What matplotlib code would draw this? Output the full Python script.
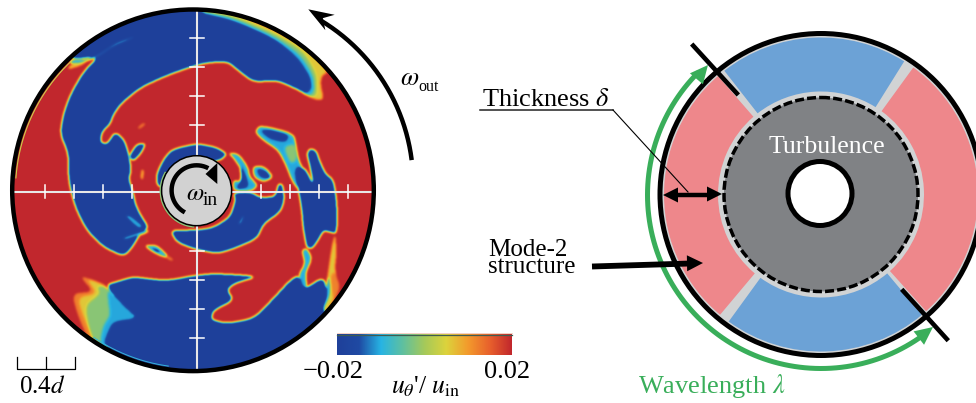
import numpy as np
import matplotlib
matplotlib.use('Agg')
import matplotlib.pyplot as plt
from matplotlib.colors import LinearSegmentedColormap
from matplotlib.patches import Circle, Wedge, Polygon
from matplotlib.path import Path

plt.rcParams['font.family'] = ['Liberation Serif', 'DejaVu Serif']
plt.rcParams['mathtext.fontset'] = 'stix'

# colour scale
cbar_min, cbar_max = -0.02, 0.02
cbar_colors = ['#1f409a', '#1f4aa3', '#27b4e4', '#5fc0a0', '#a5c95a', '#dcd33c', '#f39a2c', '#e8602c', '#c1272d']

BLUE, CYAN, GREEN, YELLOW, ORANGE = -0.02, -0.0105, -0.002, 0.006, 0.012

# outlines of the field regions (3x zoom coordinates)
top_yellow = [(600,25),(700,38),(820,88),(920,145),(985,215),(965,225),(960,250),(970,298),(945,298),(900,275),(860,200),(700,60),(600,35)]
top_green = [(600,30),(700,48),(820,98),(908,152),(948,220),(950,280),(935,292),(905,275),(860,200),(700,70),(600,38)]
top_cyan = [(600,34),(700,55),(820,108),(898,162),(938,225),(942,272),(925,288),(900,272),(860,200),(700,75)]
top_blue = [(600,38),(700,62),(820,115),(890,172),(928,230),(932,265),(915,280),(880,262),(830,240),(760,245),(720,215),(680,182),(600,190),(500,225),(420,262),(362,310),(338,345),(330,370),(305,395),(300,425),(320,432),(345,395),(372,420),(385,460),(393,510),(385,535),(398,575),(405,610),(418,640),(445,682),(420,700),(395,742),(370,768),(310,740),(260,690),(225,620),(205,540),(205,460),(180,400),(190,340),(212,280),(250,215),(295,168),(215,178),(130,130),(300,0),(600,0)]
lobe_small = [(385,470),(410,432),(435,430),(425,455),(400,482)]
sliver_cyan = [(405,108),(350,125),(300,160),(260,178),(215,178),(208,190),(240,188),(290,172),(340,138),(385,120)]
sliver_yellow = [(200,208),(215,192),(262,182),(240,196)]
above_hub = [(470,555),(470,520),(490,478),(515,448),(590,430),(650,442),(680,462),(660,480),(600,490),(530,500),(500,565)]
ring_cyan = [(685,458),(715,462),(742,500),(748,530),(772,555),(755,572),(700,572),(700,540),(720,545),(725,510),(700,472)]
ring_blue = [(718,490),(735,525),(745,560),(708,566),(725,540)]
oval_cyan = [(758,500),(790,498),(820,530),(790,545),(762,530)]
oval_blue = [(770,505),(800,515),(810,535),(780,530)]
below_hub = [(510,690),(530,725),(580,745),(650,760),(700,745),(770,715),(790,670),(840,635),(852,600),(848,555),(835,550),(825,590),(780,592),(750,575),(700,578),(706,600),(690,650),(640,682),(590,690)]
spot_cyan = [(712,672),(728,645),(732,650),(722,672)]
blob_cyan = [(765,395),(780,375),(880,400),(888,440),(895,480),(915,520),(890,500),(885,520),(895,570),(875,540),(860,500),(835,450),(790,420)]
blob_green = [(850,440),(885,430),(890,480),(870,490)]
blob_blue = [(780,390),(810,390),(865,405),(855,425),(810,415)]
right_blue = [(920,460),(930,445),(948,452),(957,480),(975,520),(1000,540),(1010,610),(1010,700),(988,695),(970,690),(950,725),(935,745),(920,742),(912,700),(908,670),(905,630),(895,570),(885,520),(890,500),(915,505),(940,555),(930,500)]
patch_cyan = [(905,750),(920,745),(935,775),(915,820),(920,860),(905,865),(895,825),(915,790)]
streak_yellow = [(1005,700),(1008,760),(1003,810),(1018,860),(990,920),(960,950),(975,880),(985,810),(995,740)]
streak_orange = [(1002,812),(1020,860),(1000,905),(990,830)]
streak_cyan = [(985,820),(992,880),(965,935),(975,890)]
ll_orange = [(240,828),(280,875),(215,880),(235,950),(270,1030),(300,1050),(340,1000),(415,955),(360,905),(315,855),(275,838)]
ll_yellow = [(262,838),(290,880),(232,892),(250,950),(285,1030),(300,1045),(340,1000),(415,955),(360,905),(315,855),(280,842)]
ll_green = [(290,860),(300,880),(255,915),(265,980),(282,1030),(305,1045),(340,1000),(415,955),(360,905),(315,858)]
ll_cyan = [(322,868),(325,910),(330,945),(310,975),(300,1020),(310,1050),(340,1000),(415,955),(360,905)]
bottom_blue = [(315,855),(365,840),(400,830),(480,840),(520,838),(570,828),(640,820),(775,828),(705,848),(680,868),(700,900),(640,930),(632,958),(680,970),(760,955),(810,905),(870,840),(895,825),(910,868),(970,830),(982,880),(965,935),(1050,1000),(800,1200),(300,1150),(340,1070),(312,1030),(325,995),(340,965),(415,955),(360,905)]
stripe_cyan = [(372,645),(390,645),(430,678),(415,686)]
stripe_cyan2 = [(365,712),(440,688),(445,695),(375,720)]
dash_orange = [(412,382),(430,368),(436,372),(418,386)]
dash_yellow = [(422,535),(424,508),(430,510),(428,537)]
lens_cyan = [(430,735),(470,735),(510,775),(470,762)]
lens_blue = [(450,742),(480,752),(472,757)]
tail_orange = [(495,765),(512,772),(520,782),(505,778)]

field_layers = [(top_yellow, YELLOW), (top_green, GREEN), (top_cyan, CYAN), (top_blue, BLUE), (lobe_small, BLUE),
                (sliver_cyan, CYAN), (sliver_yellow, YELLOW), (above_hub, BLUE), (ring_cyan, CYAN),
                (ring_blue, BLUE), (oval_cyan, CYAN), (oval_blue, BLUE), (below_hub, BLUE), (spot_cyan, CYAN),
                (blob_cyan, CYAN), (blob_green, GREEN), (blob_blue, BLUE), (right_blue, BLUE), (patch_cyan, CYAN),
                (streak_yellow, YELLOW), (streak_orange, ORANGE), (streak_cyan, CYAN),
                (ll_orange, ORANGE), (ll_yellow, YELLOW), (ll_green, GREEN), (ll_cyan, CYAN),
                (bottom_blue, BLUE), (stripe_cyan, CYAN), (stripe_cyan2, CYAN),
                (dash_orange, ORANGE), (dash_yellow, YELLOW), (lens_cyan, CYAN), (lens_blue, BLUE),
                (tail_orange, ORANGE)]

# tick positions on the white cross
cross_x_ticks = [45.3, 74, 103, 132, 261, 289.7, 318.7, 347.7]
cross_y_ticks = [38.3, 67.3, 96, 125, 250.7, 280, 309, 338]

# right hand sketch: sectors (start angle, end angle, colour)
sector_start = [58, 131, 234, 312]
sector_end = [128, 230, 310, 414]
sector_color = ['#6ca2d6', '#ee878b', '#6ca2d6', '#ee878b']


def smooth(pts, n=2):
    # round the corners of a traced outline
    p = np.array(pts, dtype=float)
    for _ in range(n):
        q = np.roll(p, -1, axis=0)
        p = np.column_stack([0.8 * p + 0.2 * q, 0.2 * p + 0.8 * q]).reshape(-1, 2)
    return p


def arc(cx, cy, r, a0, a1, n=200):
    t = np.radians(np.linspace(a0, a1, n))
    return cx + r * np.cos(t), cy - r * np.sin(t)


def head(tip, ang, length, width, color, notch=0.0):
    # arrow head with its point at tip, ang in degrees counted on the screen
    a = np.radians(ang)
    d = np.array([np.cos(a), -np.sin(a)])
    n = np.array([d[1], -d[0]])
    tip = np.array(tip, dtype=float)
    pts = [tip, tip - length * d + width / 2 * n, tip - length * (1 - notch) * d, tip - length * d - width / 2 * n]
    ax.add_patch(Polygon(pts, closed=True, fc=color, ec='none', zorder=8))


fig = plt.figure(figsize=(9.76, 4.03), dpi=100)
ax = fig.add_axes([0, 0, 1, 1])

cmap = LinearSegmentedColormap.from_list('field', cbar_colors)

# build the field from the traced regions
step = 1.5
gx, gy = np.meshgrid(np.arange(0, 1200, step), np.arange(0, 1200, step))
grid = np.column_stack([gx.ravel(), gy.ravel()])
field = np.full(gx.shape, cbar_max)
for outline, value in field_layers:
    mask = Path(smooth(outline)).contains_points(grid).reshape(gx.shape)
    field[mask] = value
kx = np.arange(-8, 9)
kernel = np.exp(-kx ** 2 / (2 * 2.3 ** 2))
kernel /= kernel.sum()
field = np.apply_along_axis(lambda r: np.convolve(r, kernel, mode='same'), 0, field)
field = np.apply_along_axis(lambda r: np.convolve(r, kernel, mode='same'), 1, field)

disc_cx, disc_cy = 193.0, 190.3
im = ax.imshow(field, cmap=cmap, vmin=cbar_min, vmax=cbar_max, extent=(0, 400, 400, 0),
               interpolation='bilinear', zorder=1)
im.set_clip_path(Circle((disc_cx, disc_cy), 180, transform=ax.transData))

# thin rim colours
x, y = arc(disc_cx, disc_cy, 177.5, 133, 176)
ax.plot(x, y, color='#c9cf4a', lw=0.8, zorder=2)
x, y = arc(disc_cx, disc_cy, 177.5, 236, 262)
ax.plot(x, y, color='#35b5d8', lw=0.7, zorder=2)

# white cross with ticks
ax.plot([15, 372], [191.5, 191.5], color='#e8e8e8', lw=1.5, zorder=3)
ax.plot([196.7, 196.7], [12, 369], color='#e8e8e8', lw=1.5, zorder=3)
for t in cross_x_ticks:
    ax.plot([t, t], [184.5, 198], color='white', lw=1.1, zorder=3)
for t in cross_y_ticks:
    ax.plot([190, 204], [t, t], color='white', lw=1.1, zorder=3)

# rim and hub
ax.add_patch(Circle((disc_cx, disc_cy), 180.8, fc='none', ec='black', lw=3.2, zorder=4))
x, y = arc(196.6, 190.7, 36.2, 150, 265)
ax.plot(x, y, color='#8cc67a', lw=1.2, zorder=4)
ax.add_patch(Circle((196.6, 190.7), 35, fc='#d2d2d2', ec='black', lw=1.1, zorder=5))
x, y = arc(196.6, 190.3, 25, 242, 62)
ax.plot(x, y, color='black', lw=3.2, zorder=6, solid_capstyle='butt')
ax.add_patch(Polygon([(205.5, 174), (217.3, 163), (217.3, 184)], fc='black', ec='none', zorder=6))
ax.text(186.5, 200, r'$\omega$', fontsize=18, ha='left', va='baseline', zorder=7)
ax.text(203, 205, 'in', fontsize=14, ha='left', va='baseline', zorder=7)

# rotation arrow of the outer cylinder
x, y = arc(222.4, 184, 190.8, 7.2, 58.8)
ax.plot(x, y, color='black', lw=3.2, zorder=6, solid_capstyle='butt')
head((308.3, 9.3), 148.7, 25.4, 18, 'black', notch=0.33)
ax.text(400, 85, r'$\omega$', fontsize=19, ha='left', va='baseline')
ax.text(418, 91, 'out', fontsize=11.5, ha='left', va='baseline')

# scale bar
ax.plot([17, 17, 75, 75], [356.7, 369.3, 369.3, 356.7], color='black', lw=0.9)
ax.plot([45.7, 45.7], [356.7, 369.3], color='black', lw=0.9)
ax.text(19, 393, r'0.4$d$', fontsize=18, ha='left', va='baseline')

# colour bar
bar = np.linspace(cbar_min, cbar_max, 256).reshape(1, -1)
ax.imshow(bar, cmap=cmap, vmin=cbar_min, vmax=cbar_max, extent=(337, 512, 355.5, 335), zorder=2)
ax.plot([337, 512], [334.5, 334.5], color='#3f5c50', lw=0.9, zorder=3)
ax.plot([337, 512], [333.3, 333.3], color='#f3c9b8', lw=0.6, zorder=3)
ax.text(333, 378, '\u22120.02', fontsize=19, ha='center', va='baseline')
ax.text(507.5, 378, '0.02', fontsize=19, ha='center', va='baseline')
ax.text(391, 393, r"$u_{\theta}$'/ $u_{\mathrm{in}}$", fontsize=18.5, ha='left', va='baseline')

# right sketch
cx, cy = 821.0, 194.5
ax.add_patch(Circle((cx, cy), 160, fc='#d1d3d4', ec='none', zorder=1))
for a0, a1, col in zip(sector_start, sector_end, sector_color):
    ax.add_patch(Wedge((cx, cy), 157, -a1, -a0, width=54, fc=col, ec='none', zorder=2))
ax.add_patch(Circle((cx, cy), 97, fc='#808285', ec='none', zorder=3))
ax.add_patch(Circle((cx, cy), 97, fc='none', ec='black', lw=2.5, ls=(0, (2.6, 0.9)), zorder=4))
ax.add_patch(Circle((cx, cy), 161, fc='none', ec='black', lw=3.6, zorder=5))
ax.add_patch(Circle((820, 193.5), 32, fc='white', ec='black', lw=3.6, zorder=5))

ax.plot([691.7, 738.3], [44, 95], color='black', lw=3.3, zorder=6, solid_capstyle='butt')
ax.plot([901.7, 948.3], [289.3, 340.7], color='black', lw=3.3, zorder=6, solid_capstyle='butt')

# wavelength arc
green = '#39ae5a'
x, y = arc(821, 195, 173.5, 135, 307)
ax.plot(x, y, color=green, lw=3.6, zorder=6, solid_capstyle='butt')
head((708, 65), 50, 18, 17, green)
head((933, 327), 38, 18, 17, green)

ax.text(826.5, 153, 'Turbulence', color='white', fontsize=18.5, ha='center', va='baseline', zorder=7)
ax.text(638, 393, r'Wavelength $\lambda$', color=green, fontsize=19, ha='left', va='baseline')
ax.text(482, 106, r'Thickness $\delta$', fontsize=19, ha='left', va='baseline')
ax.text(488, 273, 'Mode-2\nstructure', fontsize=18, ha='left', va='baseline', linespacing=0.72)

# thickness leader and arrows
ax.plot([480, 613], [110, 110], color='#222222', lw=1.1)
ax.plot([613, 688], [110, 192], color='black', lw=0.8, zorder=6)
ax.plot([672, 713], [194.5, 194.5], color='black', lw=3.2, zorder=7, solid_capstyle='butt')
head((663, 195), 180, 15, 15, 'black')
head((722, 194), 0, 15, 15, 'black')
ax.plot([592, 690], [266.5, 263.5], color='black', lw=4.2, zorder=7, solid_capstyle='butt')
head((703, 263), 1, 16, 16, 'black')

ax.set_xlim(0, 976)
ax.set_ylim(403, 0)
ax.set_aspect('auto')
ax.axis('off')
fig.savefig('out.png', dpi=100)
